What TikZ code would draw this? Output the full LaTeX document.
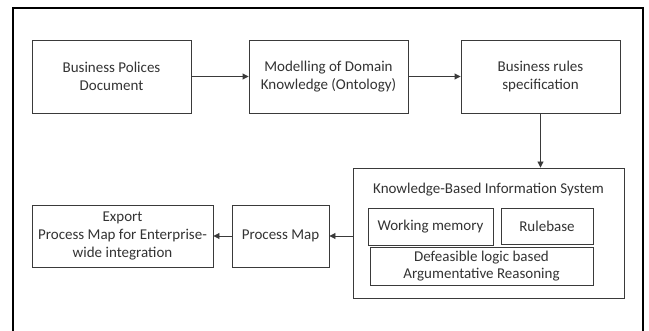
\documentclass[tikz,border=0pt]{standalone}
\usepackage{fontspec}
\setmainfont{Carlito}
\usetikzlibrary{arrows.meta}
\definecolor{ink}{HTML}{333333}
\definecolor{edge}{HTML}{3A3A3A}
\begin{document}
\begin{tikzpicture}[x=1pt,y=-1pt,
  box/.style={draw=edge, line width=0.9pt, inner sep=0pt, align=center,
    text=ink, font=\fontsize{15}{17.7}\selectfont},
  conn/.style={draw=edge, line width=0.9pt, -{Triangle[length=6pt,width=6pt]}}]
\useasboundingbox (0,0) rectangle (649,331);
\fill[white] (0,0) rectangle (649,331);
\draw[black, line width=1.8pt] (13,332) -- (13,8) -- (643,8) -- (643,332);
\node[box, minimum width=159pt, minimum height=73pt] (b1) at (111.5,76.5) {Business Polices\\Document};
\node[box, minimum width=159pt, minimum height=73pt] (b2) at (328.5,76.5) {Modelling of Domain\\Knowledge (Ontology)};
\node[box, minimum width=159pt, minimum height=73pt] (b3) at (540.5,76.5) {Business rules\\specification};
\node[box, minimum width=271pt, minimum height=130pt] (kb) at (488.5,233) {};
\node[text=ink, font=\fontsize{15}{17.7}\selectfont, inner sep=0pt] (kbt) at (488.5,190) {Knowledge-Based Information System};
\node[box, minimum width=125pt, minimum height=37pt] (wm) at (430.5,226.5) {Working memory};
\node[box, minimum width=92pt, minimum height=36pt] (rb) at (547,226) {Rulebase};
\node[box, minimum width=223pt, minimum height=38pt] (dl) at (481.5,266) {Defeasible logic based\\Argumentative Reasoning};
\node[box, minimum width=97pt, minimum height=62pt] (pm) at (280.5,236) {Process Map};
\node[box, minimum width=181pt, minimum height=62pt] (ex) at (122.5,236) {Export\\Process Map for Enterprise-\\wide integration};
\draw[conn] (b1) -- (b2);
\draw[conn] (b2) -- (b3);
\draw[conn] (b3) -- (b3 |- kb.north);
\draw[conn] (kb.west |- pm.east) -- (pm.east);
\draw[conn] (pm) -- (ex);
\end{tikzpicture}
\end{document}
